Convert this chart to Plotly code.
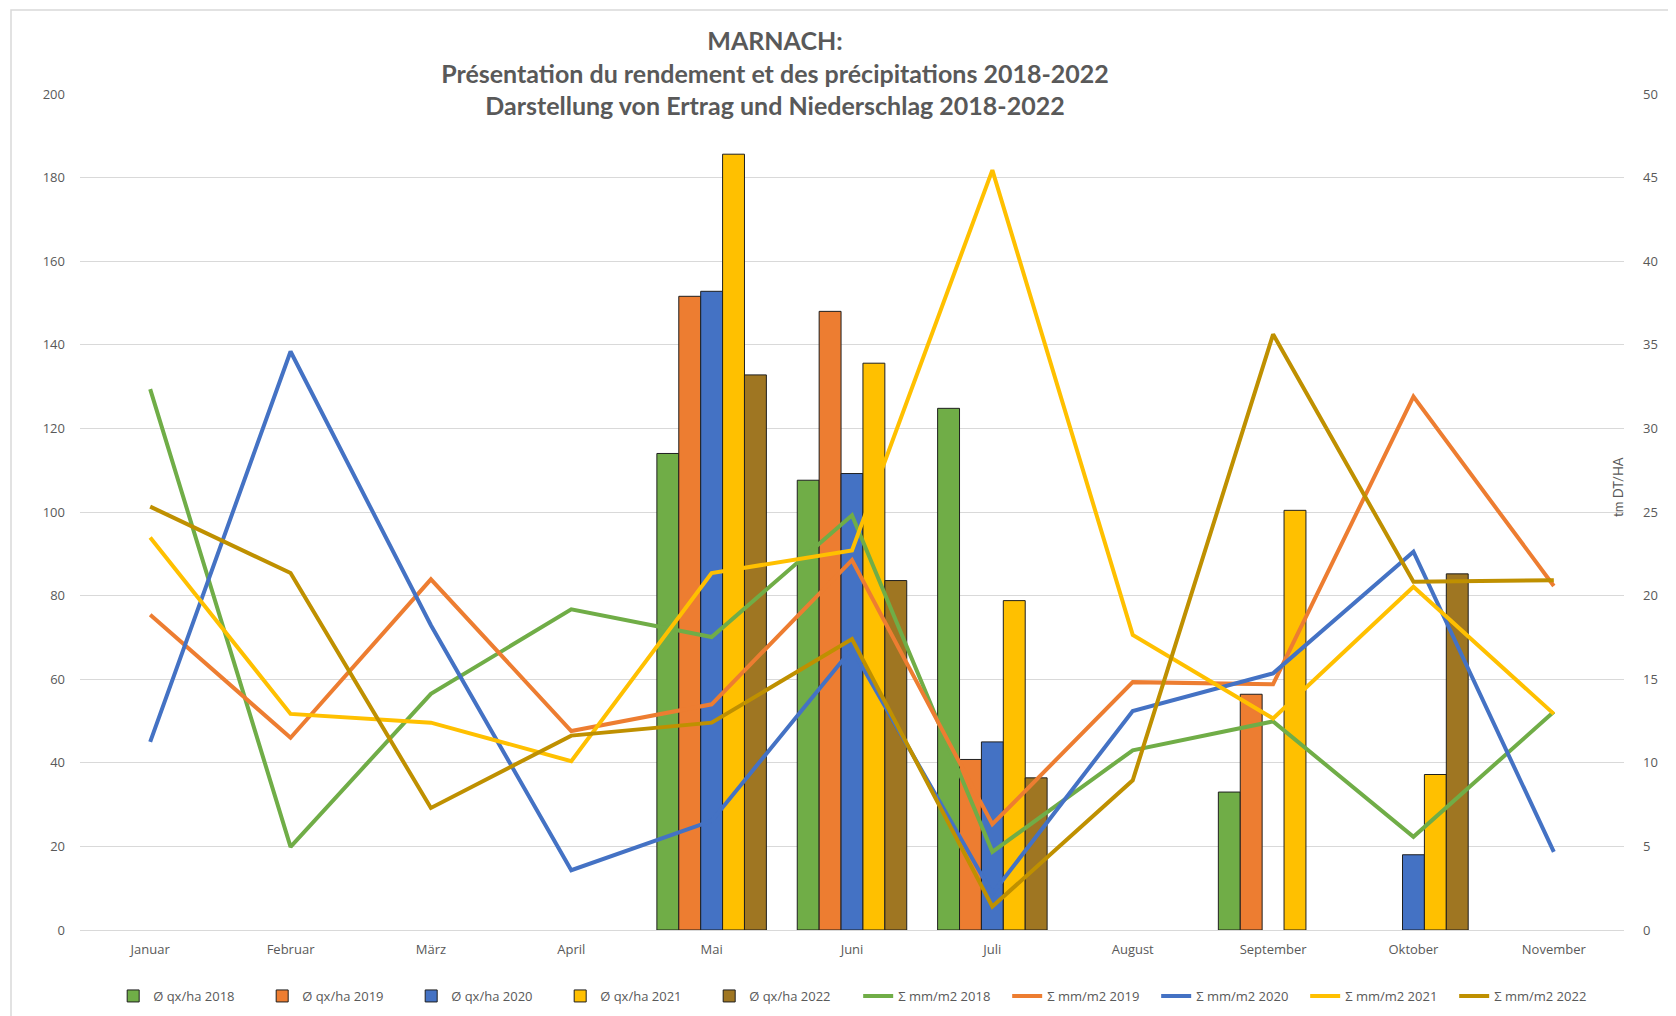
import plotly.graph_objects as go

months = ["Januar", "Februar", "März", "April", "Mai", "Juni", "Juli",
          "August", "September", "Oktober", "November"]
years = ["2018", "2019", "2020", "2021", "2022"]

# Yield (tm DT/HA, right axis)
yield_2018 = [None, None, None, None, 28.5, 26.9, 31.2, None, 8.25, None, None]
yield_2019 = [None, None, None, None, 37.9, 37.0, 10.2, None, 14.1, None, None]
yield_2020 = [None, None, None, None, 38.2, 27.3, 11.25, None, None, 4.5, None]
yield_2021 = [None, None, None, None, 46.4, 33.9, 19.7, None, 25.1, 9.3, None]
yield_2022 = [None, None, None, None, 33.2, 20.9, 9.1, None, None, 21.3, None]

# Precipitation (mm/m2, left axis)
rain_2018 = [129.4, 19.9, 56.5, 76.7, 70.1, 99.2, 18.7, 43.0, 49.9, 22.3, 52.2]
rain_2019 = [75.4, 46.0, 83.9, 47.6, 54.0, 88.5, 25.3, 59.3, 58.8, 127.6, 82.3]
rain_2020 = [45.0, 138.4, 72.9, 14.3, 26.1, 67.3, 8.7, 52.4, 61.4, 90.5, 18.7]
rain_2021 = [93.9, 51.7, 49.6, 40.4, 85.4, 90.8, 181.8, 70.6, 50.6, 82.1, 51.7]
rain_2022 = [101.3, 85.4, 29.2, 46.5, 49.6, 69.6, 5.6, 35.8, 142.5, 83.3, 83.7]

bar_colors = ["#70AD47", "#ED7D31", "#4472C4", "#FFC000", "#9F7622"]
line_colors = ["#70AD47", "#ED7D31", "#4472C4", "#FFC000", "#BF9000"]

yields = [yield_2018, yield_2019, yield_2020, yield_2021, yield_2022]
rains = [rain_2018, rain_2019, rain_2020, rain_2021, rain_2022]

fig = go.Figure()
for yr, vals, col in zip(years, yields, bar_colors):
    fig.add_trace(go.Bar(
        x=months, y=vals, name=f"Ø qx/ha {yr}", yaxis="y",
        marker=dict(color=col, line=dict(color="#1F1F1F", width=1)),
    ))
for yr, vals, col in zip(years, rains, line_colors):
    fig.add_trace(go.Scatter(
        x=months, y=vals, name=f"Σ mm/m2 {yr}", yaxis="y2", mode="lines",
        line=dict(color=col, width=4),
    ))

# page has an 8px body margin; figure coordinates are page - 8
OFF = 8
W, H = 1676 - OFF, 1016 - OFF
L, T = 80 - OFF, 94 - OFF
R = W - (1624 - OFF)
B = H - (930 - OFF)
pw = W - L - R
ph = H - T - B
tick_font = dict(family="Open Sans, Segoe UI, sans-serif", size=13, color="#595959")

fig.update_layout(
    width=W, height=H,
    margin=dict(l=L, r=R, t=T, b=B, autoexpand=False),
    paper_bgcolor="white", plot_bgcolor="white",
    barmode="group", bargap=0.22, bargroupgap=0.0,
    showlegend=True,
    title=dict(
        text="<b>MARNACH:</b><br><b>Présentation du rendement et des précipitations 2018-2022</b><br><b>Darstellung von Ertrag und Niederschlag 2018-2022</b>",
        x=(775 - OFF) / W, xanchor="center", xref="container",
        y=1 - (50 - OFF) / H, yanchor="top", yref="container",
        font=dict(family="Lato, sans-serif", size=25, color="#595959"),
    ),
    legend=dict(orientation="h", x=0.504, xanchor="center", y=-(981 - 930) / ph, yanchor="top",
                font=dict(family="Open Sans, sans-serif", size=13, color="#595959"),
                entrywidth=104, itemwidth=30, tracegroupgap=0),
    xaxis=dict(type="category", showgrid=False, showline=False, ticks="",
               tickfont=tick_font, ticklabelstandoff=10, automargin=False),
    yaxis=dict(side="right", range=[0, 50], dtick=5, showgrid=True,
               gridcolor="#D9D9D9", gridwidth=1, zeroline=True, zerolinecolor="#D9D9D9",
               zerolinewidth=1, tickfont=tick_font, ticks="", ticklabelstandoff=18,
               automargin=False),
    yaxis2=dict(side="left", overlaying="y", range=[0, 200], dtick=20, showgrid=False,
                zeroline=False, tickfont=tick_font, ticks="", ticklabelstandoff=14,
                automargin=False),
    font=dict(family="Open Sans, sans-serif", color="#595959"),
)

fig.add_annotation(
    xref="paper", yref="paper", x=(1618 - 80) / pw, y=(930 - 487) / ph,
    xanchor="center", yanchor="middle", showarrow=False, textangle=-90,
    text="tm DT/HA", font=dict(family="Lato, sans-serif", size=13, color="#595959"),
)
# chart area border
fig.add_shape(type="rect", xref="paper", yref="paper",
              x0=(11 - 80) / pw, x1=(1676 + 20 - 80) / pw,
              y0=1 - (1016 + 20 - 94) / ph, y1=1 + (94 - 10) / ph,
              line=dict(color="#D9D9D9", width=1.5), fillcolor="rgba(0,0,0,0)", layer="below")

fig.write_html("out.html")
